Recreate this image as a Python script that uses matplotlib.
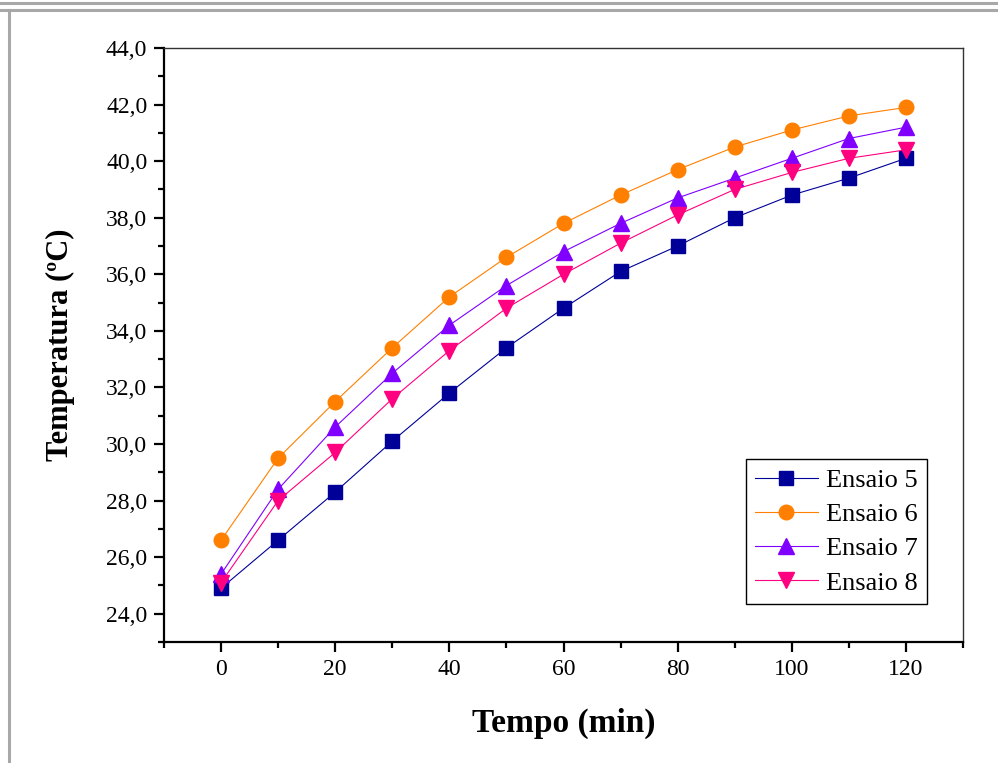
import numpy as np
import matplotlib.pyplot as plt
from matplotlib.lines import Line2D
from matplotlib.ticker import MultipleLocator, FuncFormatter

plt.rcParams['font.family'] = ['Liberation Serif', 'DejaVu Serif']

# data
tempo = [0, 10, 20, 30, 40, 50, 60, 70, 80, 90, 100, 110, 120]
ensaio5 = [24.9, 26.6, 28.3, 30.1, 31.8, 33.4, 34.8, 36.1, 37.0, 38.0, 38.8, 39.4, 40.1]
ensaio6 = [26.6, 29.5, 31.5, 33.4, 35.2, 36.6, 37.8, 38.8, 39.7, 40.5, 41.1, 41.6, 41.9]
ensaio7 = [25.4, 28.4, 30.6, 32.5, 34.2, 35.6, 36.8, 37.8, 38.7, 39.4, 40.1, 40.8, 41.2]
ensaio8 = [25.1, 28.0, 29.7, 31.6, 33.3, 34.8, 36.0, 37.1, 38.1, 39.0, 39.6, 40.1, 40.4]
labels = ['Ensaio 5', 'Ensaio 6', 'Ensaio 7', 'Ensaio 8']

fig = plt.figure(figsize=(9.98, 7.63), dpi=100)
ax = fig.add_axes([164/998, 1 - 642/763, (963-164)/998, (642-48)/763])

# gray frame around the picture
gray = '#a8a8a8'
fig.add_artist(Line2D([0, 1], [1 - 3/763, 1 - 3/763], color=gray, lw=2.2, transform=fig.transFigure))
fig.add_artist(Line2D([0, 1], [1 - 10/763, 1 - 10/763], color=gray, lw=2.2, transform=fig.transFigure))
fig.add_artist(Line2D([9/998, 9/998], [0, 1 - 10/763], color=gray, lw=2.2, transform=fig.transFigure))

ax.plot(tempo, ensaio5, '-s', color='#000099', lw=0.8, ms=9.5, label=labels[0])
ax.plot(tempo, ensaio6, '-o', color='#ff8000', lw=0.8, ms=10.5, label=labels[1])
ax.plot(tempo, ensaio7, '-^', color='#8000ff', lw=0.8, ms=11.5, label=labels[2])
ax.plot(tempo, ensaio8, '-v', color='#ff0080', lw=0.8, ms=11.5, label=labels[3])

ax.set_xlim(-10, 130)
ax.set_ylim(23, 44)
ax.xaxis.set_major_locator(MultipleLocator(20))
ax.xaxis.set_minor_locator(MultipleLocator(10))
ax.yaxis.set_major_locator(MultipleLocator(2))
ax.yaxis.set_minor_locator(MultipleLocator(1))
ax.yaxis.set_major_formatter(FuncFormatter(lambda v, p: f'{v:.1f}'.replace('.', ',')))

for s in ['left', 'bottom']:
    ax.spines[s].set_linewidth(1.6)
for s in ['top', 'right']:
    ax.spines[s].set_linewidth(1.0)
    ax.spines[s].set_color('#333333')

ax.tick_params(which='major', direction='out', length=7, width=1.6, labelsize=17, pad=5)
ax.tick_params(which='minor', direction='out', length=4.5, width=1.6)

ax.set_xlabel('Tempo (min)', fontsize=24, fontweight='bold', labelpad=20)
ax.set_ylabel('Temperatura (ºC)', fontsize=22, fontweight='bold', labelpad=22)

leg = ax.legend(loc='upper right', bbox_to_anchor=(0.955, 0.308), borderaxespad=0,
                fontsize=19, fancybox=False, edgecolor='black', framealpha=1,
                handlelength=2.4, handletextpad=0.3, labelspacing=0.41, borderpad=0.35)
leg.get_frame().set_linewidth(1.0)

fig.savefig('out.png', dpi=100)
